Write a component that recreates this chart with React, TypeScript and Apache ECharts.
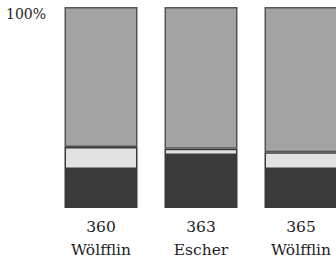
import React, { useEffect, useRef } from "react";
import * as echarts from "echarts";

const categories = ["360\nWölfflin", "363\nEscher", "365\nWölfflin"];
const darkValues = [19.4, 26.4, 19.4];
const lightValues = [10.9, 3.1, 8.3];
const grayValues = [69.7, 70.5, 72.3];
const yTickLabel = "100%";

const FONT = "DejaVu Serif";

export default function App() {
  const ref = useRef<HTMLDivElement>(null);
  useEffect(() => {
    if (!ref.current) return;
    const chart = echarts.init(ref.current, null, { renderer: "svg" });
    const border = { borderColor: "#3a3a3a", borderWidth: 1.5 };
    chart.setOption({
      animation: false,
      backgroundColor: "#ffffff",
      grid: { left: 51, top: 7, width: 300, height: 201, containLabel: false },
      xAxis: {
        type: "category",
        data: categories,
        axisLine: { show: false },
        axisTick: { show: false },
        axisLabel: {
          margin: 7,
          fontFamily: FONT,
          fontSize: 15.5,
          lineHeight: 23,
          color: "#1e1e1e",
          interval: 0,
        },
      },
      yAxis: {
        type: "value",
        min: 0,
        max: 100,
        interval: 100,
        splitLine: { show: false },
        axisLine: { show: false },
        axisTick: { show: false },
        axisLabel: {
          formatter: (v: number) => (v === 100 ? yTickLabel : ""),
          fontFamily: FONT,
          fontSize: 14,
          color: "#1e1e1e",
          margin: 5,
          verticalAlign: "top",
        },
      },
      series: [
        {
          type: "bar",
          stack: "s",
          data: darkValues,
          barWidth: 73,
          itemStyle: { color: "#3b3b3b", ...border },
        },
        {
          type: "bar",
          stack: "s",
          data: lightValues,
          barWidth: 73,
          itemStyle: { color: "#e2e2e2", ...border },
        },
        {
          type: "bar",
          stack: "s",
          data: grayValues,
          barWidth: 73,
          itemStyle: { color: "#a3a3a3", borderColor: "#555", borderWidth: 1.5 },
        },
      ],
    });
    return () => chart.dispose();
  }, []);
  return (
    <div
      style={{
        position: "absolute",
        left: 0,
        top: 0,
        width: 336,
        height: 264,
        overflow: "hidden",
        background: "#fff",
      }}
    >
      <div ref={ref} style={{ width: 370, height: 264 }} />
    </div>
  );
}
